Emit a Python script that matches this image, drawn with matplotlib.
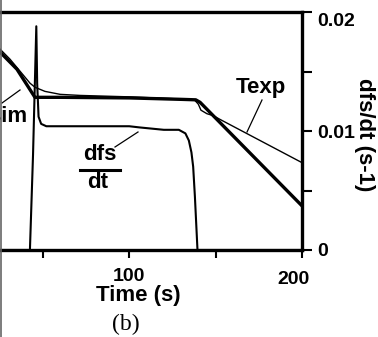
import matplotlib
matplotlib.use("Agg")
import matplotlib.pyplot as plt
from matplotlib.lines import Line2D
from matplotlib.transforms import ScaledTranslation

# ---- data ----
# dfs/dt (s-1), right axis
t_dfs = [0, 42.5, 44.3, 46.2, 46.7, 47.5, 49.0, 52.0, 70, 100, 106, 120, 128.7, 132.5, 134.5, 136.0, 137.0, 138.0, 139.5, 200]
dfs = [0, 0, 0.0080, 0.0188, 0.0140, 0.0112, 0.0106, 0.0104, 0.0104, 0.0104, 0.0103, 0.0101, 0.0101, 0.0098, 0.0092, 0.0082, 0.0070, 0.0045, 0.0, 0.0]

# Simulated temperature Tsim (thick), arbitrary left scale
t_sim = [15, 25.3, 35, 45.4, 60, 100, 130, 138.5, 141, 200]
T_sim = [683, 666.2, 651.9, 628.3, 628.3, 627.8, 626.6, 626.2, 624.1, 537.1]

# Experimental temperature Texp (thin)
t_exp = [15, 25.2, 31, 36.8, 42.6, 45.5, 51.2, 60, 71.5, 100, 135, 138, 140, 141.5, 145, 148.5, 152.6, 200]
T_exp = [686, 668.8, 660.3, 650.2, 640.1, 636.7, 633.3, 630.8, 629.9, 628.7, 626.6, 625.7, 622.5, 617.5, 614.5, 613.0, 609.7, 573.4]

x_ticks = [50, 100, 150, 200]
x_ticklabels = ["", "100", "", "200"]
y_ticks = [0, 0.005, 0.01, 0.015, 0.02]
y_ticklabels = ["0", "", "0.01", "", "0.02"]

W, H = 378, 337
fig = plt.figure(figsize=(W / 100, H / 100), dpi=100)

left_px, right_px, top_px, bot_px = -43.5, 302, 12, 250
ax = fig.add_axes([left_px / W, 1 - bot_px / H, (right_px - left_px) / W, (bot_px - top_px) / H])
axT = ax.twinx()

ax.set_xlim(0, 200)
ax.set_ylim(0, 0.02)
ax.plot(t_dfs, dfs, color="black", lw=1.5, solid_joinstyle="round")

for s in ["top", "bottom", "right"]:
    ax.spines[s].set_linewidth(2.4)
ax.spines["left"].set_visible(False)
ax.yaxis.tick_right()
ax.yaxis.set_label_position("right")
ax.set_xticks(x_ticks)
ax.set_xticklabels(x_ticklabels, fontsize=14, fontweight="bold", family="Liberation Sans")
ax.set_yticks(y_ticks)
ax.set_yticklabels(y_ticklabels, fontsize=14, fontweight="bold", family="Liberation Sans")
ax.tick_params(axis="x", direction="out", length=6, width=1.5, pad=7)
ax.tick_params(axis="y", direction="out", length=7, width=1.5, pad=4, left=False, labelleft=False,
               right=True, labelright=True)
ax.tick_params(axis="x", top=False)

# small offsets of individual tick labels as in the scanned figure
lbl200 = ax.get_xticklabels()[3]
lbl200.set_transform(lbl200.get_transform() + ScaledTranslation(-8 / 100, -3 / 100, fig.dpi_scale_trans))
lbl002 = ax.get_yticklabels()[4]
lbl002.set_transform(lbl002.get_transform() + ScaledTranslation(0, -7 / 100, fig.dpi_scale_trans))

axT.set_ylim(500, 700)
axT.plot(t_sim, T_sim, color="black", lw=2.4, solid_joinstyle="round")
axT.plot(t_exp, T_exp, color="black", lw=1.0)
axT.set_yticks([])
axT.tick_params(axis="y", left=False, right=False, labelleft=False, labelright=False)
for s in axT.spines.values():
    s.set_visible(False)

# labels
fs_lab = 16
fig.text(261 / W, 1 - 88 / H, "Texp", ha="center", va="center", fontsize=fs_lab,
         fontweight="bold", family="Liberation Sans")
fig.add_artist(Line2D([262 / W, 247 / W], [1 - 100 / H, 1 - 132 / H], color="black", lw=0.9))

fig.text(28 / W, 1 - 116 / H, "Tsim", ha="right", va="center", fontsize=fs_lab,
         fontweight="bold", family="Liberation Sans")
fig.add_artist(Line2D([2 / W, 20 / W], [1 - 103 / H, 1 - 90 / H], color="black", lw=0.9))

fig.text(100 / W, 1 - 155 / H, "dfs", ha="center", va="center", fontsize=fs_lab,
         fontweight="bold", family="Liberation Sans")
fig.add_artist(Line2D([80 / W, 120 / W], [1 - 170 / H, 1 - 170 / H], color="black", lw=2.2))
fig.text(98 / W, 1 - 183 / H, "dt", ha="center", va="center", fontsize=fs_lab,
         fontweight="bold", family="Liberation Sans")
fig.add_artist(Line2D([115 / W, 138 / W], [1 - 147 / H, 1 - 132 / H], color="black", lw=0.9))

fig.text(364 / W, 1 - 135 / H, "dfs/dt (s-1)", ha="center", va="center", rotation=270,
         fontsize=16, fontweight="bold", family="Liberation Sans")

fig.text(138 / W, 1 - 296 / H, "Time (s)", ha="center", va="center", fontsize=16,
         fontweight="bold", family="Liberation Sans")
fig.text(126 / W, 1 - 324 / H, "(b)", ha="center", va="center", fontsize=17,
         family="Liberation Serif")

# left border line of the scanned panel
fig.add_artist(Line2D([1.2 / W, 1.2 / W], [0, 1], color="#666666", lw=1.2))

fig.savefig("out.png", dpi=100)
